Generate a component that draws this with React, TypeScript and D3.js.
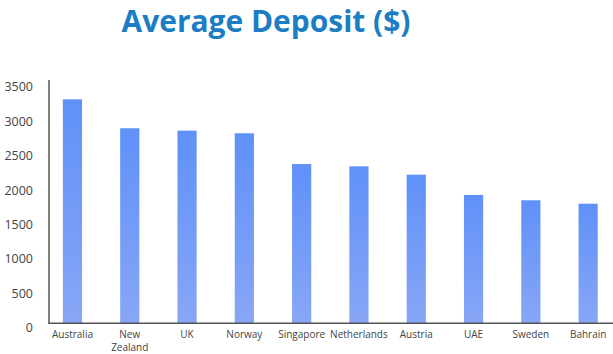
import React from "react";
import * as d3 from "d3";

const countries = ["Australia", "New Zealand", "UK", "Norway", "Singapore", "Netherlands", "Austria", "UAE", "Sweden", "Bahrain"];
const deposits = [3255, 2835, 2800, 2762, 2315, 2282, 2160, 1865, 1788, 1738];
const yTicks = [0, 500, 1000, 1500, 2000, 2500, 3000, 3500];
const title = "Average Deposit ($)";

const W = 613;
const H = 354;

export default function App() {
  const x = d3.scaleBand<string>().domain(countries).range([43.8, 616.8]).paddingInner(0.665).paddingOuter(0.3325);
  const y = d3.scaleLinear().domain([0, 3500]).range([323.3, 82.5]);
  const axisColor = "#555";
  const labelColor = "#444";
  const font = "'Open Sans', sans-serif";

  return (
    <svg width={W} height={H} style={{ position: "absolute", left: 0, top: 0, background: "#fff" }}>
      <defs>
        <linearGradient id="barGrad" x1="0" y1="0" x2="0" y2="1">
          <stop offset="0%" stopColor="#5f91f9" />
          <stop offset="100%" stopColor="#88a6f6" />
        </linearGradient>
      </defs>
      <text x={266} y={32} textAnchor="middle" fontFamily={font} fontWeight={700} fontSize={31} fill="#1b7dc3" textLength={289} lengthAdjust="spacingAndGlyphs">
        {title}
      </text>
      {countries.map((c, i) => (
        <rect key={c} x={x(c)} y={y(deposits[i])} width={x.bandwidth()} height={y(0) - y(deposits[i])} fill="url(#barGrad)" />
      ))}
      <line x1={49} x2={49} y1={80} y2={y(0)} stroke={axisColor} strokeWidth={1.5} />
      <line x1={48.25} x2={W} y1={y(0)} y2={y(0)} stroke={axisColor} strokeWidth={1.5} />
      {yTicks.map((t) => (
        <text key={t} x={33} y={y(t) + 4.5} dy="0.35em" textAnchor="end" fontFamily={font} fontSize={12.5} fill={labelColor}>
          {t}
        </text>
      ))}
      {countries.map((c) => {
        const parts = c === "New Zealand" ? ["New", "Zealand"] : [c];
        const cx = (x(c) as number) + x.bandwidth() / 2;
        return (
          <text key={c} x={cx} y={338} textAnchor="middle" fontFamily={font} fontSize={10} fill={labelColor}>
            {parts.map((p, k) => (
              <tspan key={k} x={cx} dy={k === 0 ? 0 : 13}>
                {p}
              </tspan>
            ))}
          </text>
        );
      })}
    </svg>
  );
}
